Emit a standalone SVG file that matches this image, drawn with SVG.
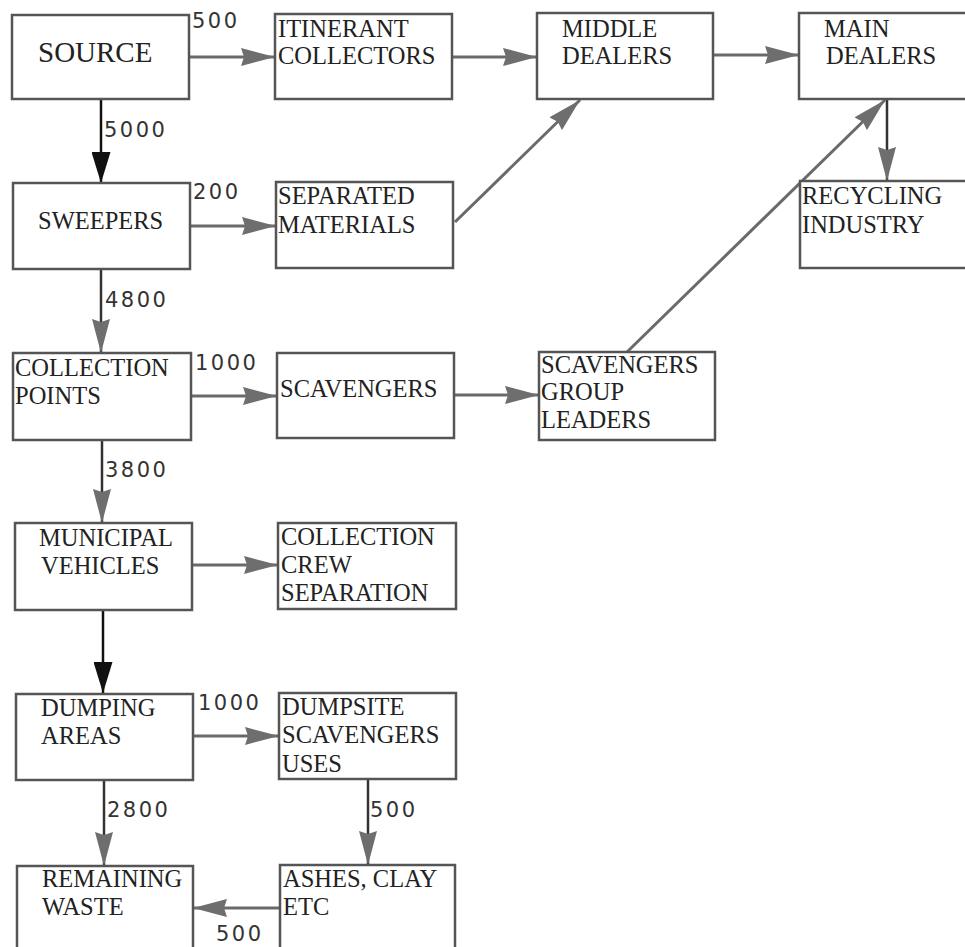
<svg xmlns="http://www.w3.org/2000/svg" width="965" height="947" viewBox="0 0 965 947">
<defs>
<marker id="ag" viewBox="0 0 34 18" refX="34" refY="9" markerWidth="34" markerHeight="18" markerUnits="userSpaceOnUse" orient="auto">
<path d="M0,0 L34,9 L0,18 L3,9 z" fill="#6e6e6e"/>
</marker>
<marker id="ab" viewBox="0 0 31 19" refX="31" refY="9.5" markerWidth="31" markerHeight="19" markerUnits="userSpaceOnUse" orient="auto">
<path d="M0,0 L31,9.5 L0,19 z" fill="#111"/>
</marker>
<style>
.box{fill:#fff;stroke:#555;stroke-width:2.5}
.t{font-family:"Liberation Serif","Times New Roman",serif;font-size:24.5px;fill:#222}
.n{font-family:"DejaVu Sans",sans-serif;font-size:21px;letter-spacing:2.5px;fill:#333}
.cg{stroke:#6a6a6a;stroke-width:3;fill:none;marker-end:url(#ag)}
.cgd{stroke:#333;stroke-width:2.5;fill:none;marker-end:url(#ag)}
.cb{stroke:#111;stroke-width:2.5;fill:none;marker-end:url(#ab)}
</style>
</defs>
<rect width="965" height="947" fill="#fff"/>
<g id="connectors">
<line class="cg" x1="189" y1="57" x2="275" y2="57"/>
<line class="cg" x1="452" y1="57" x2="537" y2="57"/>
<line class="cg" x1="713" y1="55" x2="799" y2="55"/>
<line class="cb" x1="101" y1="99" x2="101" y2="183"/>
<line class="cg" x1="190" y1="226" x2="276" y2="226"/>
<line class="cg" x1="455" y1="222" x2="580" y2="100"/>
<line class="cgd" x1="887" y1="99" x2="887" y2="181"/>
<line class="cgd" x1="101" y1="269" x2="101" y2="353"/>
<line class="cg" x1="191" y1="396" x2="277" y2="396"/>
<line class="cg" x1="454" y1="395" x2="539" y2="395"/>
<line class="cg" x1="627" y1="352" x2="885" y2="100"/>
<line class="cgd" x1="102" y1="440" x2="102" y2="523"/>
<line class="cg" x1="192" y1="565" x2="278" y2="565"/>
<line class="cb" x1="103" y1="610" x2="103" y2="693"/>
<line class="cg" x1="193" y1="736" x2="279" y2="736"/>
<line class="cgd" x1="104" y1="780" x2="104" y2="866"/>
<line class="cgd" x1="368" y1="779" x2="368" y2="865"/>
<line class="cg" x1="280" y1="908" x2="193" y2="908"/>
</g>
<g id="labels">
<text class="n" x="192" y="28">500</text>
<text class="n" x="104" y="137">5000</text>
<text class="n" x="193" y="199">200</text>
<text class="n" x="105" y="307">4800</text>
<text class="n" x="195" y="370">1000</text>
<text class="n" x="105" y="477">3800</text>
<text class="n" x="198" y="710">1000</text>
<text class="n" x="107" y="817">2800</text>
<text class="n" x="370" y="817">500</text>
<text class="n" x="216" y="941">500</text>
</g>
<g id="source"><rect class="box" x="12" y="15" width="177" height="84"/><text class="t" x="38" y="62" style="font-size:29px">SOURCE</text></g>
<g id="itinerant"><rect class="box" x="275" y="14" width="177" height="85"/><text class="t" x="278" y="37">ITINERANT</text><text class="t" x="278" y="64">COLLECTORS</text></g>
<g id="middle"><rect class="box" x="537" y="13" width="176" height="86"/><text class="t" x="562" y="37">MIDDLE</text><text class="t" x="562" y="64">DEALERS</text></g>
<g id="main"><rect class="box" x="799" y="13" width="180" height="86"/><text class="t" x="824" y="37">MAIN</text><text class="t" x="826" y="64">DEALERS</text></g>
<g id="sweepers"><rect class="box" x="13" y="183" width="177" height="86"/><text class="t" x="38" y="229">SWEEPERS</text></g>
<g id="separated"><rect class="box" x="276" y="182" width="177" height="86"/><text class="t" x="278" y="204">SEPARATED</text><text class="t" x="278" y="233">MATERIALS</text></g>
<g id="recycling"><rect class="box" x="800" y="181" width="180" height="87"/><text class="t" x="802" y="204">RECYCLING</text><text class="t" x="802" y="233">INDUSTRY</text></g>
<g id="collection-points"><rect class="box" x="13" y="353" width="178" height="87"/><text class="t" x="15" y="376">COLLECTION</text><text class="t" x="15" y="404">POINTS</text></g>
<g id="scavengers"><rect class="box" x="277" y="353" width="177" height="85"/><text class="t" x="280" y="397">SCAVENGERS</text></g>
<g id="group-leaders"><rect class="box" x="539" y="352" width="176" height="88"/><text class="t" x="541" y="373">SCAVENGERS</text><text class="t" x="541" y="400">GROUP</text><text class="t" x="541" y="428">LEADERS</text></g>
<g id="municipal"><rect class="box" x="15" y="523" width="177" height="87"/><text class="t" x="39" y="546">MUNICIPAL</text><text class="t" x="41" y="574">VEHICLES</text></g>
<g id="crew"><rect class="box" x="278" y="523" width="178" height="86"/><text class="t" x="281" y="545">COLLECTION</text><text class="t" x="281" y="573">CREW</text><text class="t" x="281" y="601">SEPARATION</text></g>
<g id="dumping"><rect class="box" x="16" y="694" width="177" height="86"/><text class="t" x="41" y="716">DUMPING</text><text class="t" x="41" y="744">AREAS</text></g>
<g id="dumpsite"><rect class="box" x="279" y="693" width="177" height="86"/><text class="t" x="282" y="715">DUMPSITE</text><text class="t" x="282" y="743">SCAVENGERS</text><text class="t" x="282" y="772">USES</text></g>
<g id="remaining"><rect class="box" x="17" y="866" width="176" height="100"/><text class="t" x="42" y="887">REMAINING</text><text class="t" x="42" y="915">WASTE</text></g>
<g id="ashes"><rect class="box" x="280" y="865" width="175" height="100"/><text class="t" x="283" y="887">ASHES, CLAY</text><text class="t" x="283" y="915">ETC</text></g>
</svg>
